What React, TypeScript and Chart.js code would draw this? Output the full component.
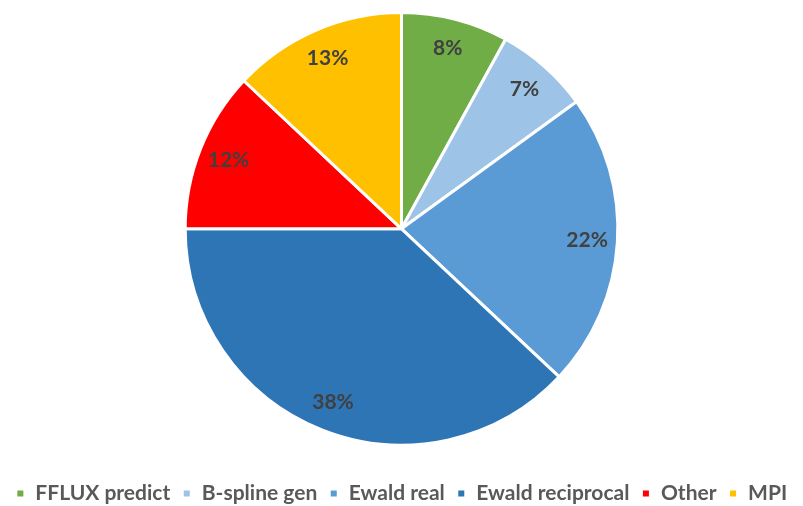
import React, { useEffect, useRef } from "react";
import { Chart, registerables } from "chart.js";

Chart.register(...registerables);

const categories = ["FFLUX predict", "B-spline gen", "Ewald real", "Ewald reciprocal", "Other", "MPI"];
const shares = [8, 7, 22, 38, 12, 13];
const colors = ["#70AD47", "#9DC3E6", "#5B9BD5", "#2E75B6", "#FF0000", "#FFC000"];

const FONT = "Lato, 'Open Sans', sans-serif";

// Percentage labels drawn inside each slice
const sliceLabels = {
  id: "sliceLabels",
  afterDatasetsDraw(chart: Chart) {
    const ctx = chart.ctx;
    const meta = chart.getDatasetMeta(0);
    ctx.save();
    ctx.font = `bold 21px ${FONT}`;
    ctx.fillStyle = "#404040";
    ctx.textAlign = "center";
    ctx.textBaseline = "middle";
    meta.data.forEach((arc: any, i: number) => {
      const { x, y, startAngle, endAngle, outerRadius } = arc.getProps(
        ["x", "y", "startAngle", "endAngle", "outerRadius"],
        true
      );
      const mid = (startAngle + endAngle) / 2;
      const r = outerRadius * 0.86;
      ctx.fillText(`${shares[i]}%`, x + Math.cos(mid) * r, y + Math.sin(mid) * r);
    });
    ctx.restore();
  },
};

export default function App() {
  const ref = useRef<HTMLCanvasElement>(null);
  useEffect(() => {
    document.body.style.margin = "0";
    const chart = new Chart(ref.current!, {
      type: "pie",
      data: {
        labels: categories,
        datasets: [
          {
            data: shares,
            backgroundColor: colors,
            borderColor: "#ffffff",
            borderWidth: 3,
          },
        ],
      },
      options: {
        animation: false,
        responsive: false,
        layout: { padding: { top: 11, bottom: 0 } },
        plugins: {
          tooltip: { enabled: false },
          legend: {
            position: "bottom",
            title: { display: true, text: "", font: { size: 12 }, padding: { top: 10, bottom: 0 } },
            labels: {
              boxWidth: 9,
              boxHeight: 9,
              padding: 12,
              color: "#595959",
              font: { family: FONT, size: 21, weight: "bold" },
            },
          },
        },
      },
      plugins: [sliceLabels],
    });
    return () => chart.destroy();
  }, []);
  return (
    <div style={{ width: 803, height: 506, overflow: "hidden", background: "#fff" }}>
      <canvas ref={ref} width={803} height={514} />
    </div>
  );
}
